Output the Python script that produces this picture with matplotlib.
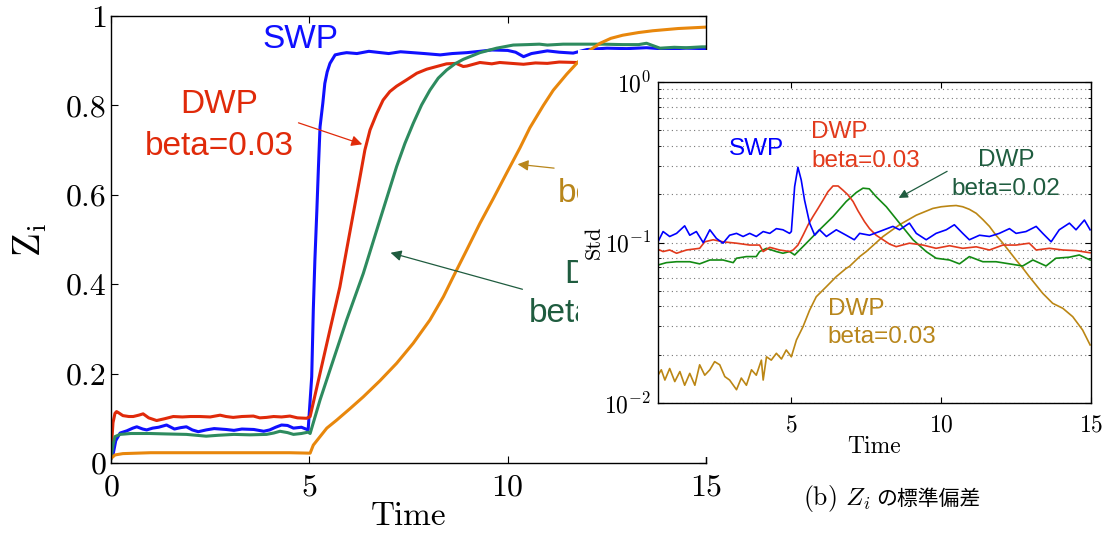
import matplotlib
matplotlib.use("Agg")
import matplotlib.pyplot as plt
from matplotlib.patches import Rectangle
from matplotlib.ticker import NullFormatter, LogLocator

plt.rcParams['font.family'] = ['cmr10', 'DejaVu Serif']
plt.rcParams['mathtext.fontset'] = 'cm'
plt.rcParams['axes.formatter.use_mathtext'] = True
plt.rcParams['axes.unicode_minus'] = True

# ---- main panel: Z_i over time ----
t_swp = [0, 0.05, 0.12, 0.23, 0.4, 0.55, 0.65, 0.8, 0.9, 1.05, 1.2, 1.4, 1.6, 1.75, 1.9, 2.05,
         2.2, 2.4, 2.6, 2.9, 3.1, 3.3, 3.6, 3.85, 4.0, 4.15, 4.3, 4.45, 4.6, 4.8, 4.97,
         5.06, 5.1, 5.14, 5.19, 5.23, 5.27, 5.34, 5.39, 5.45, 5.52, 5.65, 5.8, 5.94, 6.2,
         6.5, 6.8, 7.0, 7.3, 7.6, 7.9, 8.3, 8.6, 8.97, 9.3, 9.6, 10.0, 10.2, 10.4, 10.6,
         11.0, 11.3, 11.65, 12.0, 12.5, 13.0, 13.5, 14.0, 14.5, 15.0]
z_swp = [0.010, 0.018, 0.050, 0.067, 0.072, 0.078, 0.081, 0.076, 0.074, 0.078, 0.080, 0.085,
         0.076, 0.079, 0.081, 0.074, 0.070, 0.074, 0.077, 0.075, 0.073, 0.076, 0.075, 0.071,
         0.074, 0.080, 0.085, 0.084, 0.078, 0.080, 0.074,
         0.193, 0.342, 0.454, 0.566, 0.663, 0.752, 0.805, 0.849, 0.875, 0.894, 0.913, 0.916,
         0.918, 0.916, 0.921, 0.918, 0.916, 0.920, 0.918, 0.916, 0.913, 0.916, 0.918, 0.921,
         0.924, 0.923, 0.919, 0.909, 0.916, 0.922, 0.919, 0.917, 0.925, 0.928, 0.927, 0.929,
         0.926, 0.928, 0.927]

t_d03 = [0, 0.05, 0.1, 0.14, 0.18, 0.3, 0.45, 0.56, 0.7, 0.81, 0.95, 1.15, 1.35, 1.57, 1.8,
         2.0, 2.24, 2.5, 2.75, 2.9, 3.08, 3.3, 3.59, 3.75, 3.92, 4.1, 4.3, 4.51, 4.7, 4.93,
         5.02, 5.25, 5.52, 5.77, 5.94, 6.11, 6.28, 6.40, 6.53, 6.70, 6.86, 7.03, 7.20, 7.45,
         7.71, 7.96, 8.21, 8.46, 8.7, 8.88, 8.97, 9.3, 9.6, 9.8, 10.1, 10.4, 10.7, 11.0,
         11.3, 11.74, 12.5, 13.5, 15.0]
z_d03 = [0.02, 0.09, 0.111, 0.115, 0.113, 0.106, 0.104, 0.104, 0.107, 0.110, 0.101, 0.095,
         0.099, 0.104, 0.103, 0.104, 0.104, 0.103, 0.107, 0.104, 0.102, 0.104, 0.105, 0.101,
         0.102, 0.104, 0.103, 0.105, 0.101, 0.100,
         0.104, 0.193, 0.298, 0.394, 0.477, 0.559, 0.641, 0.700, 0.745, 0.782, 0.812, 0.831,
         0.843, 0.857, 0.872, 0.881, 0.887, 0.893, 0.894, 0.887, 0.888, 0.896, 0.893, 0.896,
         0.894, 0.892, 0.895, 0.894, 0.897, 0.896, 0.895, 0.896, 0.895]

t_d02 = [0, 0.05, 0.1, 0.23, 0.5, 0.98, 1.4, 1.9, 2.4, 2.7, 3.1, 3.5, 3.92, 4.1, 4.26, 4.45,
         4.6, 4.8, 4.97, 5.02, 5.27, 5.52, 5.94, 6.36, 6.78, 7.2, 7.41, 7.62, 7.83, 8.04,
         8.25, 8.46, 8.67, 8.88, 9.3, 9.72, 10.14, 10.5, 10.8, 11.0, 11.4, 11.8, 12.4, 12.9,
         13.3, 13.5, 13.84, 14.2, 14.5, 14.9, 15.0]
z_d02 = [0.01, 0.04, 0.059, 0.064, 0.066, 0.066, 0.065, 0.064, 0.060, 0.062, 0.064, 0.063,
         0.064, 0.067, 0.071, 0.068, 0.064, 0.066, 0.069, 0.066,
         0.141, 0.208, 0.320, 0.424, 0.544, 0.663, 0.715, 0.760, 0.801, 0.834, 0.861, 0.879,
         0.893, 0.903, 0.918, 0.928, 0.935, 0.936, 0.937, 0.935, 0.937, 0.937, 0.937, 0.936,
         0.936, 0.939, 0.928, 0.930, 0.929, 0.931, 0.931]

t_d01 = [0, 0.1, 0.3, 1, 2, 3, 4, 4.5, 5.02, 5.10, 5.27, 5.44, 5.69, 6.03, 6.36, 6.78, 7.2,
         7.62, 8.04, 8.38, 8.63, 8.97, 9.3, 9.64, 9.97, 10.31, 10.56, 10.9, 11.15, 11.49,
         11.74, 12.08, 12.33, 12.6, 12.9, 13.3, 13.66, 14.3, 14.97]
z_d01 = [0.01, 0.018, 0.021, 0.023, 0.023, 0.023, 0.023, 0.023, 0.022, 0.040, 0.059, 0.078,
         0.096, 0.122, 0.148, 0.184, 0.223, 0.268, 0.320, 0.372, 0.417, 0.477, 0.536, 0.592,
         0.648, 0.705, 0.750, 0.800, 0.834, 0.870, 0.894, 0.924, 0.939, 0.950, 0.957, 0.963,
         0.967, 0.972, 0.975]

main_yticks = [0, 0.2, 0.4, 0.6, 0.8, 1]
main_ylabels = ['0', '0.2', '0.4', '0.6', '0.8', '1']
main_xticks = [0, 5, 10, 15]

# ---- inset: standard deviation of Z_i (log scale) ----
s_t_swp = [0.55, 0.72, 0.94, 1.17, 1.44, 1.61, 1.83, 2.06, 2.28, 2.5, 2.72, 2.94, 3.17, 3.39,
           3.61, 3.83, 4.06, 4.28, 4.5, 4.72, 4.94, 5.0, 5.11, 5.22, 5.33, 5.44, 5.61, 5.78,
           5.94, 6.17, 6.5, 6.83, 7.1, 7.28, 7.61, 7.94, 8.39, 8.61, 8.94, 9.17, 9.5, 9.83,
           10.17, 10.44, 10.72, 10.94, 11.28, 11.61, 11.94, 12.28, 12.5, 12.83, 13.17, 13.39,
           13.67, 13.94, 14.28, 14.5, 14.78, 14.97]
s_v_swp = [0.101, 0.117, 0.109, 0.114, 0.127, 0.111, 0.117, 0.0998, 0.120, 0.106, 0.099, 0.111,
           0.114, 0.109, 0.114, 0.109, 0.117, 0.114, 0.122, 0.120, 0.114, 0.117, 0.223, 0.294,
           0.245, 0.184, 0.132, 0.111, 0.120, 0.109, 0.120, 0.111, 0.104, 0.114, 0.111, 0.117,
           0.126, 0.120, 0.132, 0.114, 0.104, 0.114, 0.120, 0.129, 0.114, 0.104, 0.111, 0.109,
           0.114, 0.122, 0.114, 0.117, 0.126, 0.114, 0.101, 0.120, 0.132, 0.120, 0.138, 0.120]

s_t_d03 = [0.55, 0.72, 0.94, 1.17, 1.5, 1.94, 2.11, 2.39, 2.72, 3.17, 3.61, 3.94, 4.06, 4.28,
           4.61, 4.94, 5.06, 5.22, 5.39, 5.56, 5.72, 5.89, 6.06, 6.22, 6.39, 6.56, 6.72, 6.89,
           7.06, 7.22, 7.44, 7.61, 7.83, 8.06, 8.28, 8.5, 8.94, 9.39, 9.83, 10.28, 10.72,
           11.17, 11.61, 12.06, 12.5, 12.94, 13.17, 13.61, 14.06, 14.5, 14.97]
s_v_d03 = [0.0908, 0.0878, 0.0898, 0.0857, 0.0898, 0.092, 0.101, 0.104, 0.101, 0.099, 0.0964,
           0.0964, 0.0878, 0.0933, 0.0898, 0.0878, 0.0898, 0.0964, 0.111, 0.129, 0.145, 0.163,
           0.184, 0.207, 0.225, 0.225, 0.212, 0.198, 0.180, 0.158, 0.135, 0.122, 0.111, 0.104,
           0.0977, 0.0942, 0.099, 0.0964, 0.092, 0.0955, 0.092, 0.094, 0.0898, 0.0964, 0.0964,
           0.099, 0.0898, 0.092, 0.0898, 0.089, 0.0863]

s_t_d02 = [0.55, 0.83, 1.17, 1.61, 1.94, 2.28, 2.72, 3.06, 3.17, 3.5, 3.83, 3.94, 4.17, 4.5,
           4.72, 4.94, 5.11, 5.5, 5.94, 6.39, 6.83, 7.17, 7.39, 7.6, 7.83, 8.17, 8.61, 9.06,
           9.5, 9.83, 10.28, 10.61, 10.94, 11.39, 11.83, 12.28, 12.72, 13.06, 13.5, 13.83,
           14.28, 14.61, 14.97]
s_v_d02 = [0.0724, 0.0749, 0.0759, 0.0759, 0.0736, 0.0778, 0.0778, 0.0749, 0.0798, 0.0817,
           0.0817, 0.0878, 0.092, 0.0878, 0.0857, 0.0878, 0.0836, 0.099, 0.120, 0.145, 0.180,
           0.205, 0.218, 0.216, 0.193, 0.167, 0.132, 0.104, 0.0878, 0.0798, 0.0778, 0.0736,
           0.0817, 0.0759, 0.0759, 0.0736, 0.0714, 0.0778, 0.0714, 0.0798, 0.081, 0.0836,
           0.0778]

s_t_d01 = [0.55, 0.66, 0.78, 0.94, 1.11, 1.28, 1.44, 1.61, 1.78, 1.94, 2.11, 2.28, 2.44, 2.61,
           2.78, 2.94, 3.17, 3.33, 3.5, 3.67, 3.83, 4.0, 4.06, 4.17, 4.33, 4.5, 4.67, 4.83,
           5.0, 5.17, 5.39, 5.61, 5.83, 6.17, 6.5, 6.83, 6.94, 7.28, 7.5, 8.06, 8.61, 9.17,
           9.72, 10.0, 10.28, 10.5, 10.72, 10.94, 11.17, 11.39, 11.61, 11.83, 12.06, 12.28,
           12.5, 12.72, 12.94, 13.39, 13.72, 14.06, 14.39, 14.72, 14.97]
s_v_d01 = [0.0149, 0.0161, 0.0139, 0.0164, 0.0136, 0.0157, 0.0129, 0.0153, 0.0129, 0.0173,
           0.0149, 0.0161, 0.0181, 0.0173, 0.0146, 0.0139, 0.0121, 0.0143, 0.0129, 0.0161,
           0.0149, 0.0185, 0.0139, 0.0194, 0.0185, 0.0204, 0.0188, 0.0214, 0.0194, 0.0247,
           0.0299, 0.0379, 0.0459, 0.0531, 0.0613, 0.0690, 0.0710, 0.0817, 0.0878, 0.109,
           0.129, 0.148, 0.163, 0.167, 0.169, 0.170, 0.167, 0.161, 0.152, 0.139, 0.126, 0.111,
           0.099, 0.0878, 0.0778, 0.0694, 0.0613, 0.0482, 0.0418, 0.0389, 0.0345, 0.0285,
           0.0230]

inset_xticks = [5, 10, 15]

fig = plt.figure(figsize=(11.12, 5.37), dpi=100)

# main axes
ax = fig.add_axes([111/1112, 1-463/537, 595/1112, 447/537])
ax.plot(t_swp, z_swp, color='#1010ff', lw=2.2)
ax.plot(t_d03, z_d03, color='#e02a0a', lw=2.2)
ax.plot(t_d02, z_d02, color='#2e8b5f', lw=2.2)
ax.plot(t_d01, z_d01, color='#e8870c', lw=2.2)
ax.set_xlim(0, 15)
ax.set_ylim(0, 1)
ax.set_xticks(main_xticks)
ax.set_yticks(main_yticks, main_ylabels)
ax.tick_params(direction='in', top=True, right=True, length=5, width=0.8, labelsize=23)
ax.tick_params(axis='x', pad=8)
ax.tick_params(axis='y', pad=3)
ax.set_xlabel('Time', fontsize=24, labelpad=0)
ax.set_ylabel(r'$\mathrm{Z_i}$', fontsize=28, labelpad=12)
for s in ax.spines.values():
    s.set_linewidth(1.0)

sans = 'Liberation Sans'
ax.text(4.765, 0.928, 'SWP', color='#1010ff', fontsize=24, family=sans, ha='center', va='baseline')
ax.text(2.72, 0.783, 'DWP', color='#e02a0a', fontsize=24, family=sans, ha='center', va='baseline')
ax.text(2.72, 0.689, 'beta=0.03', color='#e02a0a', fontsize=24, family=sans, ha='center', va='baseline')
ax.annotate('', xy=(6.40, 0.711), xytext=(4.66, 0.763),
            arrowprops=dict(arrowstyle='-|>', color='#e02a0a', lw=0.9, mutation_scale=16))
ax.text(12.40, 0.403, 'DWP', color='#1f5c3f', fontsize=24, family=sans, ha='center', va='baseline')
ax.text(12.40, 0.315, 'beta=0.02', color='#1f5c3f', fontsize=24, family=sans, ha='center', va='baseline')
ax.annotate('', xy=(6.98, 0.472), xytext=(10.44, 0.387),
            arrowprops=dict(arrowstyle='-|>', color='#1f5c3f', lw=0.9, mutation_scale=16))
ax.text(13.19, 0.679, 'DWP', color='#b8861b', fontsize=24, family=sans, ha='center', va='baseline')
ax.text(11.27, 0.585, 'beta=0.01', color='#b8861b', fontsize=24, family=sans, ha='left', va='baseline')
ax.annotate('', xy=(10.18, 0.669), xytext=(11.24, 0.659),
            arrowprops=dict(arrowstyle='-|>', color='#b8861b', lw=0.9, mutation_scale=16))

# white panel hiding the right part of the main plot
fig.add_artist(Rectangle((578/1112, 1-457/537), 534/1112, 407/537,
                         transform=fig.transFigure, facecolor='white', edgecolor='none', zorder=1))

# inset axes
ins = fig.add_axes([658/1112, 1-403/537, 433/1112, 321/537])
ins.set_zorder(2)
ins.plot(s_t_d01, s_v_d01, color='#bb8614', lw=1.2)
ins.plot(s_t_d02, s_v_d02, color='#138a13', lw=1.2)
ins.plot(s_t_d03, s_v_d03, color='#e23a1c', lw=1.2)
ins.plot(s_t_swp, s_v_swp, color='#0000ff', lw=1.2)
ins.set_yscale('log')
ins.set_ylim(1e-2, 1)
ins.set_xlim(0.55, 15)
ins.set_xticks(inset_xticks)
ins.yaxis.set_minor_locator(LogLocator(base=10, subs=range(2, 10)))
ins.yaxis.set_minor_formatter(NullFormatter())
ins.grid(True, axis='y', which='both', linestyle=(0, (1, 3)), color='#777777', lw=0.8)
ins.tick_params(direction='in', top=True, right=True, length=4, width=0.8, labelsize=17)
ins.tick_params(which='minor', direction='in', right=True, length=2.5, width=0.6)
ins.tick_params(axis='x', pad=8)
ins.tick_params(axis='y', pad=5)
ins.set_xlabel('Time', fontsize=17, labelpad=0)
ins.set_ylabel('Std', fontsize=16, labelpad=0)
for s in ins.spines.values():
    s.set_linewidth(1.0)

ins.text(3.83, 0.351, 'SWP', color='#0000ff', fontsize=17.5, family=sans, ha='center', va='baseline')
ins.text(5.67, 0.448, 'DWP', color='#e23a1c', fontsize=17.5, family=sans, ha='left', va='baseline')
ins.text(5.67, 0.297, 'beta=0.03', color='#e23a1c', fontsize=17.5, family=sans, ha='left', va='baseline')
ins.text(12.17, 0.300, 'DWP', color='#1f5c3f', fontsize=17.5, family=sans, ha='center', va='baseline')
ins.text(12.17, 0.198, 'beta=0.02', color='#1f5c3f', fontsize=17.5, family=sans, ha='center', va='baseline')
ins.annotate('', xy=(8.5, 0.186), xytext=(10.28, 0.283),
             arrowprops=dict(arrowstyle='-|>', color='#1f5c3f', lw=0.9, mutation_scale=13))
ins.text(6.22, 0.0353, 'DWP', color='#b8861b', fontsize=17.5, family=sans, ha='left', va='baseline')
ins.text(6.22, 0.0237, 'beta=0.03', color='#b8861b', fontsize=17.5, family=sans, ha='left', va='baseline')

# caption
fig.text(803/1112, 1-505/537, r'(b) $Z_i$', fontsize=18.5, ha='left', va='baseline', zorder=3)
fig.text(876/1112, 1-505/537, 'の標準偏差', fontsize=15, family=['Noto Sans CJK JP', 'DejaVu Sans'],
         ha='left', va='baseline', zorder=3)

fig.savefig('out.png', dpi=100)
